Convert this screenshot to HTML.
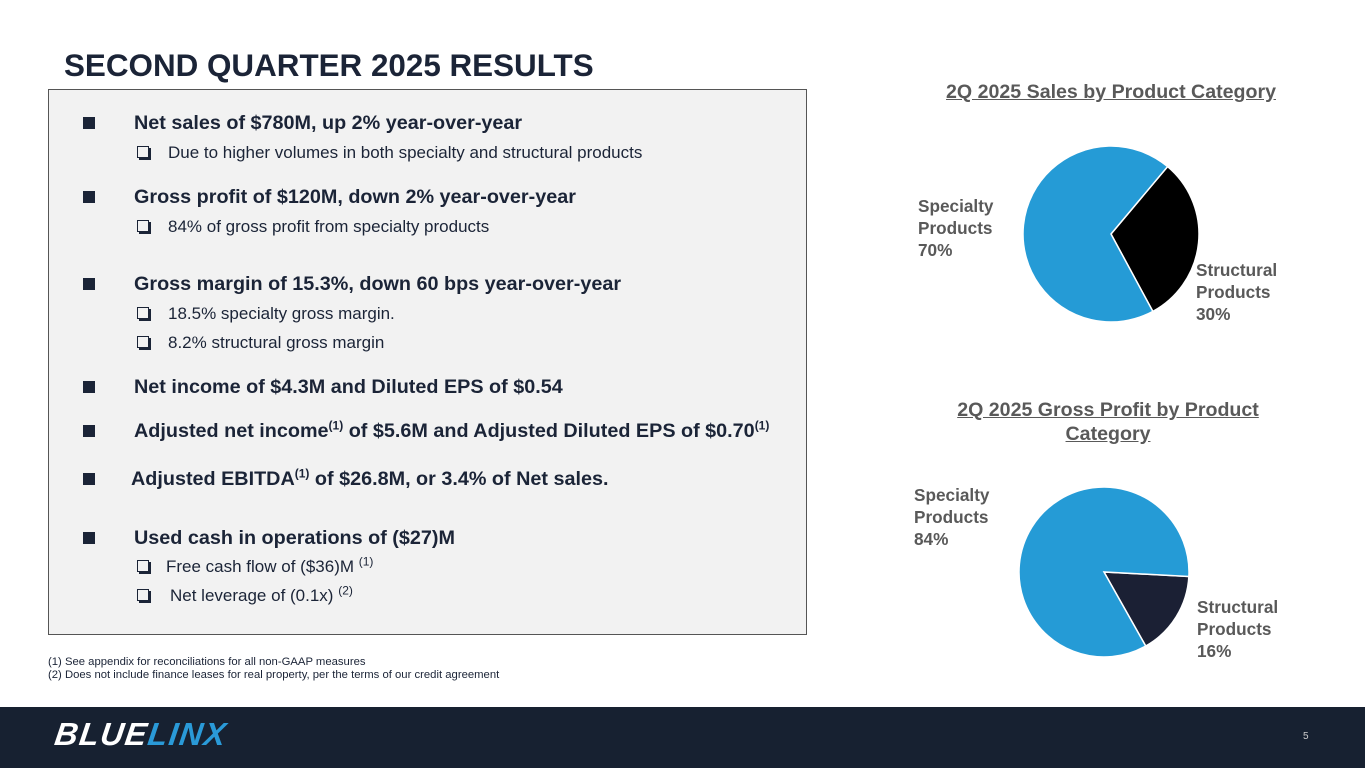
<!DOCTYPE html>
<html><head><meta charset="utf-8"><style>
body{margin:0;width:1365px;height:768px;position:relative;overflow:hidden;background:#fff;font-family:"Liberation Sans",Arial,sans-serif;color:#1b2437}
.a{position:absolute;white-space:nowrap}
.m{font-size:19.8px;font-weight:bold;line-height:22px}
.s{font-size:17px;line-height:20px}
.sq{position:absolute;width:12px;height:12px;background:#1b2437}
.cb{position:absolute;width:10px;height:10px;border:1.5px solid #1b2437;box-shadow:2px 2px 0 #1b2437}
sup{font-size:12px;line-height:0}
.lbl{position:absolute;font-size:17.2px;font-weight:bold;color:#595959;line-height:22px}
.ttl{position:absolute;font-size:19.6px;font-weight:bold;color:#595959;text-decoration:underline;text-align:center;line-height:24px}
</style></head><body>
<div class="a" style="left:64px;top:48px;font-size:31.4px;font-weight:bold;">SECOND QUARTER 2025 RESULTS</div>
<div style="position:absolute;left:48px;top:89px;width:759px;height:546px;background:#f2f2f2;border:1px solid #555;box-sizing:border-box"></div>

<div class="sq" style="left:83px;top:117px"></div><div class="a m" style="left:134px;top:112px">Net sales of $780M, up 2% year-over-year</div>
<div class="cb" style="left:137px;top:146px"></div><div class="a s" style="left:168px;top:143px">Due to higher volumes in both specialty and structural products</div>
<div class="sq" style="left:83px;top:191px"></div><div class="a m" style="left:134px;top:186px">Gross profit of $120M, down 2% year-over-year</div>
<div class="cb" style="left:137px;top:220px"></div><div class="a s" style="left:168px;top:217px">84% of gross profit from specialty products</div>
<div class="sq" style="left:83px;top:278px"></div><div class="a m" style="left:134px;top:273px">Gross margin of 15.3%, down 60 bps year-over-year</div>
<div class="cb" style="left:137px;top:307px"></div><div class="a s" style="left:168px;top:304px">18.5% specialty gross margin.</div>
<div class="cb" style="left:137px;top:336px"></div><div class="a s" style="left:168px;top:333px">8.2% structural gross margin</div>
<div class="sq" style="left:83px;top:381px"></div><div class="a m" style="left:134px;top:376px">Net income of $4.3M and Diluted EPS of $0.54</div>
<div class="sq" style="left:83px;top:425px"></div><div class="a m" style="left:134px;top:420px">Adjusted net income<sup>(1)</sup> of $5.6M and Adjusted Diluted EPS of $0.70<sup>(1)</sup></div>
<div class="sq" style="left:83px;top:473px"></div><div class="a m" style="left:131px;top:468px">Adjusted EBITDA<sup>(1)</sup> of $26.8M, or 3.4% of Net sales.</div>
<div class="sq" style="left:83px;top:532px"></div><div class="a m" style="left:134px;top:527px">Used cash in operations of ($27)M</div>
<div class="cb" style="left:137px;top:560px"></div><div class="a s" style="left:166px;top:557px">Free cash flow of ($36)M <sup>(1)</sup></div>
<div class="cb" style="left:137px;top:589px"></div><div class="a s" style="left:170px;top:586px">Net leverage of (0.1x) <sup>(2)</sup></div>

<div class="a" style="left:48px;top:656px;font-size:11.3px;line-height:13px;color:#1b2437">(1) See appendix for reconciliations for all non-GAAP measures<br>(2) Does not include finance leases for real property, per the terms of our credit agreement</div>

<div class="ttl" style="left:930px;top:80px;width:362px">2Q 2025 Sales by Product Category</div>
<div class="ttl" style="left:908px;top:398px;width:400px">2Q 2025 Gross Profit by Product <br>Category</div>
<svg id="pies" width="1365" height="768" style="position:absolute;left:0;top:0"></svg>
<div class="lbl" style="left:918px;top:195px">Specialty<br>Products<br>70%</div>
<div class="lbl" style="left:1196px;top:259px">Structural<br>Products<br>30%</div>
<div class="lbl" style="left:914px;top:484px">Specialty<br>Products<br>84%</div>
<div class="lbl" style="left:1197px;top:596px">Structural<br>Products<br>16%</div>

<div style="position:absolute;left:0;top:707px;width:1365px;height:61px;background:#172131"></div>
<div class="a" style="left:55px;top:716px;font-size:32px;font-weight:bold;font-style:italic;letter-spacing:1.5px;transform:skewX(-8deg)"><span style="color:#fff">BLUE</span><span style="color:#2a9ad8">LINX</span></div>
<div class="a" style="left:1303px;top:731px;font-size:10px;color:#ccc">5</div>

<script>
const salesCategories=["Specialty Products","Structural Products"];
const salesValues=[69,31];
const profitCategories=["Specialty Products","Structural Products"];
const profitValues=[84,16];
const svg=document.getElementById('pies');
function pie(vals,cx,cy,r,start,colors,names){
  const tot=vals.reduce((a,b)=>a+b,0);
  let a0=start;
  vals.forEach((v,i)=>{
    const a1=a0+v/tot*360;
    const p=a=>[cx+r*Math.sin(a*Math.PI/180),cy-r*Math.cos(a*Math.PI/180)];
    const [x0,y0]=p(a0),[x1,y1]=p(a1);
    const path=document.createElementNS('http://www.w3.org/2000/svg','path');
    path.setAttribute('d',`M${cx},${cy}L${x0},${y0}A${r},${r} 0 ${a1-a0>180?1:0} 1 ${x1},${y1}Z`);
    path.setAttribute('fill',colors[i]);
    path.setAttribute('stroke','#fff');
    path.setAttribute('stroke-width','1.5');
    
    
    svg.appendChild(path);
    a0=a1;
  });
}
pie([salesValues[1],salesValues[0]],1111,234,88,40,["#000000","#259bd6"],["sales-structural-slice","sales-specialty-slice"]);
pie([profitValues[1],profitValues[0]],1104,572,85,93,["#1b2034","#259bd6"],["profit-structural-slice","profit-specialty-slice"]);
</script>
</body></html>
